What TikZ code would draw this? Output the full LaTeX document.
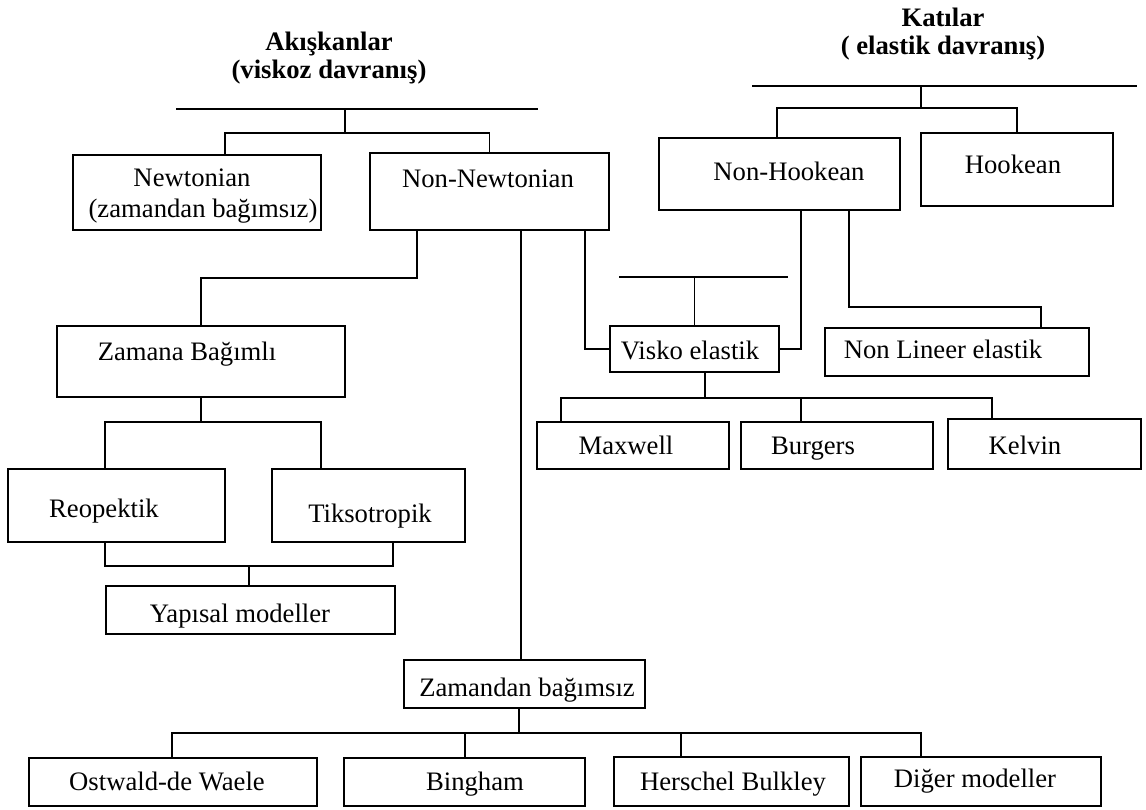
\documentclass[tikz,border=0pt]{standalone}
\usepackage{fontspec}
\setmainfont{Liberation Serif}
\usetikzlibrary{fit}

\tikzset{
  box/.style={draw, line width=1.1pt, inner sep=0pt},
  lbl/.style={inner sep=0pt, text height=14pt, text depth=4pt,
    font=\fontsize{20}{24}\selectfont},
  head/.style={inner sep=0pt, align=center, font=\fontsize{20}{21}\selectfont\bfseries},
  link/.style={line width=1.1pt},
}

\begin{document}
\begin{tikzpicture}[x=0.75pt, y=-0.75pt, link]
\useasboundingbox (0,0) rectangle (1146,810);

% titles
\node[head] (fluid) at (329,58) {Akışkanlar\\(viskoz davranış)};
\node[head] (solid) at (943,34) {Katılar\\( elastik davranış)};

% boxes, fluids
\node[box, fit={(73,155) (321,230)}] (newt) {};
\node[box, fit={(370,153) (609,230)}] (nn) {};
\node[box, fit={(57,326) (345,397)}] (zb) {};
\node[box, fit={(8,469) (225,542)}] (reo) {};
\node[box, fit={(272,469) (465,542)}] (tik) {};
\node[box, fit={(106,586) (395,634)}] (yap) {};
\node[box, fit={(404,660) (645,708)}] (zbs) {};
\node[box, fit={(29,758) (317,806)}] (ost) {};
\node[box, fit={(344,758) (585,806)}] (bing) {};
\node[box, fit={(614,757) (849,806)}] (hers) {};
\node[box, fit={(861,757) (1101,806)}] (dig) {};

% boxes, solids
\node[box, fit={(659,138) (900,210)}] (nh) {};
\node[box, fit={(921,133) (1113,206)}] (hk) {};
\node[box, fit={(610,326) (779,372)}] (visko) {};
\node[box, fit={(825,328) (1089,376)}] (nl) {};
\node[box, fit={(537,422) (729,469)}] (max) {};
\node[box, fit={(741,422) (933,469)}] (burg) {};
\node[box, fit={(948,419) (1141,469)}] (kel) {};

% texts
\node[lbl] (newt-t) at (192,180) {Newtonian};
\node[lbl] (newt-u) at (203,211) {(zamandan bağımsız)};
\node[lbl] (nn-t) at (488,181) {Non-Newtonian};
\node[lbl] (zb-t) at (187,354) {Zamana Bağımlı};
\node[lbl] (reo-t) at (104,511) {Reopektik};
\node[lbl] (tik-t) at (370,516) {Tiksotropik};
\node[lbl] (yap-t) at (240,616) {Yapısal modeller};
\node[lbl] (zbs-t) at (527,690) {Zamandan bağımsız};
\node[lbl] (ost-t) at (167,784) {Ostwald-de Waele};
\node[lbl] (bing-t) at (475,784) {Bingham};
\node[lbl] (hers-t) at (733,784) {Herschel Bulkley};
\node[lbl] (dig-t) at (975,781) {Diğer modeller};
\node[lbl] (nh-t) at (789,174) {Non-Hookean};
\node[lbl] (hk-t) at (1013,167) {Hookean};
\node[lbl] (visko-t) at (690,353) {Visko elastik};
\node[lbl] (nl-t) at (943,352) {Non Lineer elastik};
\node[lbl] (max-t) at (626,448) {Maxwell};
\node[lbl] (burg-t) at (813,448) {Burgers};
\node[lbl] (kel-t) at (1025,448) {Kelvin};

% fluids tree
\coordinate (bar1l) at (176,109);
\coordinate (bar1r) at (538,109);
\coordinate (bar1m) at (345,109);
\coordinate (fork1) at (345,133);
\draw (bar1l) -- (bar1r);
\draw (bar1m) -- (fork1);
\draw (newt.north -| 225,0) |- (fork1) -| (nn.north);

\coordinate (nnk) at (201,278);
\draw (nn.south -| 417,0) |- (nnk) -- (zb.north);
\draw (nn.south -| 521,0) -- (zbs.north -| 521,0);
\draw (nn.south -| 585,0) |- (visko.west);

\coordinate (fork3) at (201,422);
\draw (zb.south) -- (fork3);
\draw (reo.north -| 105,0) |- (fork3) -| (tik.north -| 321,0);

\coordinate (fork4) at (249,566);
\draw (reo.south -| 105,0) |- (fork4) -| (tik.south -| 393,0);
\draw (fork4) -- (yap.north -| fork4);

\coordinate (fork5) at (519,733);
\draw (zbs.south -| fork5) -- (fork5);
\draw (ost.north -| 172,0) |- (fork5) -| (dig.north -| 921,0);
\draw (bing.north -| 465,0) -- (fork5 -| 465,0);
\draw (hers.north -| 681,0) -- (fork5 -| 681,0);

% solids tree
\coordinate (bar2l) at (752,86);
\coordinate (bar2r) at (1137,86);
\coordinate (bar2m) at (921,86);
\coordinate (fork2) at (921,108);
\draw (bar2l) -- (bar2r);
\draw (bar2m) -- (fork2);
\draw (nh.north -| 777,0) |- (fork2) -| (hk.north);

\draw (nh.south -| 801,0) |- (visko.east);
\coordinate (nlk) at (1041,307);
\draw (nh.south -| 849,0) |- (nlk) -- (nl.north -| nlk);

\coordinate (bar3l) at (619,277);
\coordinate (bar3r) at (788,277);
\draw (bar3l) -- (bar3r);
\draw (visko.north) -- (visko.north |- bar3l);

\coordinate (fork6) at (705,398);
\draw (visko.south -| fork6) -- (fork6);
\draw (max.north -| 561,0) |- (fork6) -| (kel.north -| 992,0);
\draw (burg.north -| 801,0) -- (fork6 -| 801,0);
\end{tikzpicture}
\end{document}
